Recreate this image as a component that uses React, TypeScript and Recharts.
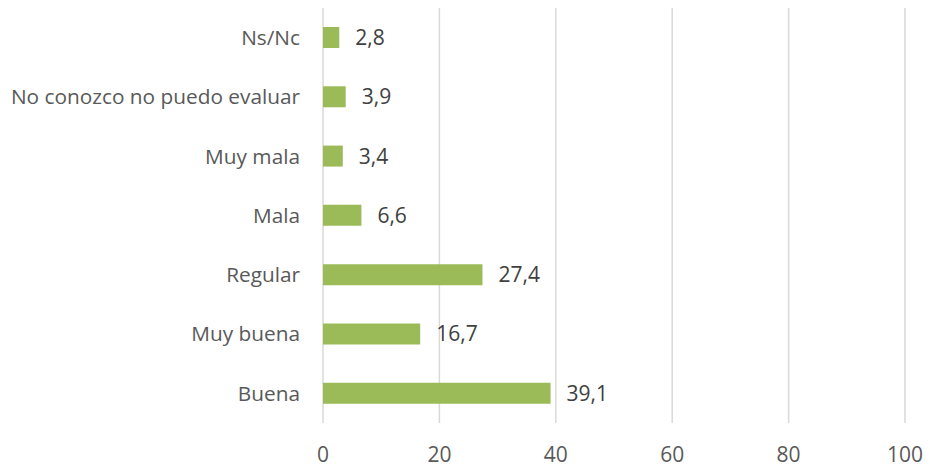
import { BarChart, Bar, XAxis, YAxis, CartesianGrid, LabelList } from 'recharts'

const categories = [
  'Ns/Nc',
  'No conozco no puedo evaluar',
  'Muy mala',
  'Mala',
  'Regular',
  'Muy buena',
  'Buena',
]
const values = [2.8, 3.9, 3.4, 6.6, 27.4, 16.7, 39.1]
const xTicks = [0, 20, 40, 60, 80, 100]

const data = categories.map((name, i) => ({ name, value: values[i] }))

const font = '"Open Sans", "Liberation Sans", Arial, sans-serif'

export default function App() {
  return (
    <div style={{ position: 'absolute', left: 0, top: 0, width: 930, height: 470, background: '#fff' }}>
      <BarChart
        width={930}
        height={470}
        data={data}
        layout="vertical"
        margin={{ top: 8, right: 25, bottom: 0, left: 0 }}
        barSize={21}
      >
        <CartesianGrid horizontal={false} stroke="#d9d9d9" strokeWidth={1.5} />
        <XAxis
          type="number"
          domain={[0, 100]}
          ticks={xTicks}
          axisLine={false}
          tickLine={false}
          height={47}
          tickMargin={18}
          tick={{ fill: '#595959', fontSize: 21, fontFamily: font }}
        />
        <YAxis
          type="category"
          dataKey="name"
          width={323}
          axisLine={false}
          tickLine={false}
          tickMargin={17}
          interval={0}
          tick={{ fill: '#595959', fontSize: 20.8, fontFamily: font }}
        />
        <Bar dataKey="value" fill="#9bbb59" isAnimationActive={false}>
          <LabelList
            dataKey="value"
            position="right"
            offset={16}
            formatter={(v: any) => String(v).replace('.', ',')}
            style={{ fill: '#404040', fontSize: 21, fontFamily: font }}
          />
        </Bar>
      </BarChart>
    </div>
  )
}
